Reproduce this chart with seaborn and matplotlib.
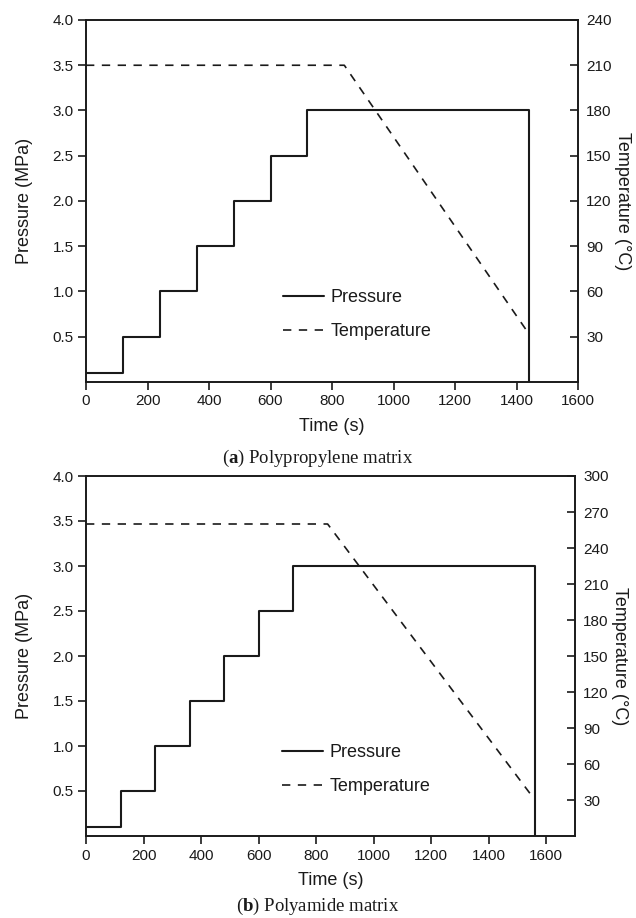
import matplotlib
matplotlib.use("Agg")
import matplotlib.pyplot as plt
import numpy as np
import pandas as pd
import seaborn as sns

sns.set_theme(style="ticks")
plt.rcParams["font.family"] = ["Liberation Sans", "DejaVu Sans"]
plt.rcParams["mathtext.fontset"] = "custom"
plt.rcParams["mathtext.bf"] = "Liberation Serif:bold"
plt.rcParams["mathtext.rm"] = "Liberation Serif"

# (a) polypropylene matrix
PP_TIME = [0, 120, 240, 360, 480, 600, 720, 1440, 1440]
PP_PRESSURE = [0.1, 0.5, 1.0, 1.5, 2.0, 2.5, 3.0, 3.0, 0.0]
PP_TEMP_TIME = [0, 840, 1440]
PP_TEMP = [210, 210, 32]

# (b) polyamide matrix
PA_TIME = [0, 120, 240, 360, 480, 600, 720, 1560, 1560]
PA_PRESSURE = [0.1, 0.5, 1.0, 1.5, 2.0, 2.5, 3.0, 3.0, 0.0]
PA_TEMP_TIME = [0, 840, 1545]
PA_TEMP = [260, 260, 35]

P_TICKS = [0.5, 1.0, 1.5, 2.0, 2.5, 3.0, 3.5, 4.0]
X_TICKS = [0, 200, 400, 600, 800, 1000, 1200, 1400, 1600]

INK = "#1a1a1a"


def draw_panel(fig, rect, time, pressure, temp_time, temp, xmax, tmax, t_ticks, caption_bold, caption_rest, cap_y):
    ax = fig.add_axes(rect)
    sns.lineplot(x=time, y=pressure, ax=ax, color=INK, lw=1.5, sort=False,
                 estimator=None, drawstyle="steps-post", legend=False)
    ax.set_xlim(0, xmax)
    ax.set_ylim(0, 4.0)
    ax.set_xticks(X_TICKS)
    ax.set_yticks(P_TICKS)
    ax.set_yticklabels([f"{v:.1f}" for v in P_TICKS])
    ax.tick_params(axis="both", direction="out", length=6, width=1.2, color=INK,
                   labelsize=11, labelcolor=INK, pad=3)
    ax.set_xlabel("Time (s)", fontsize=13, color=INK, labelpad=7)
    ax.set_ylabel("Pressure (MPa)", fontsize=13, color=INK, labelpad=14)

    ax2 = ax.twinx()
    sns.lineplot(x=temp_time, y=temp, ax=ax2, color=INK, lw=1.2, sort=False,
                 estimator=None, legend=False)
    ax2.lines[0].set_dashes([5, 4.5])
    ax2.set_ylim(0, tmax)
    ax2.set_yticks(t_ticks)
    ax2.tick_params(axis="y", direction="in", length=6, width=1.2, color=INK,
                    labelsize=11, labelcolor=INK, pad=6)
    ax2.set_ylabel("Temperature (°C)", fontsize=13, color=INK, rotation=270, labelpad=14)

    for a in (ax, ax2):
        for sp in a.spines.values():
            sp.set_color(INK)
            sp.set_linewidth(1.2)

    handles = ax.get_lines()[:1] + ax2.get_lines()[:1]
    leg = ax.legend(handles, ["Pressure", "Temperature"], loc="upper left",
                    bbox_to_anchor=(0.4, 0.256), frameon=False, fontsize=13,
                    handlelength=2.3, handletextpad=0.35, labelspacing=0.95,
                    borderpad=0, borderaxespad=0)
    for t in leg.get_texts():
        t.set_color(INK)

    cap = r"(" + r"$\bf{" + caption_bold + r"}$" + r") " + caption_rest
    fig.text(0.5, cap_y, cap, fontsize=13.5, family="Liberation Serif",
             ha="center", va="center", color=INK)
    return ax, ax2


fig = plt.figure(figsize=(6.36, 9.18), dpi=100)
draw_panel(fig, [86 / 636, 1 - 382 / 918, 492 / 636, 362 / 918],
           PP_TIME, PP_PRESSURE, PP_TEMP_TIME, PP_TEMP, 1600, 240,
           [30, 60, 90, 120, 150, 180, 210, 240], "a", "Polypropylene matrix", 1 - 458 / 918)
draw_panel(fig, [86 / 636, 1 - 836 / 918, 489 / 636, 360 / 918],
           PA_TIME, PA_PRESSURE, PA_TEMP_TIME, PA_TEMP, 1700, 300,
           [30, 60, 90, 120, 150, 180, 210, 240, 270, 300], "b", "Polyamide matrix", 1 - 906 / 918)

fig.savefig("out.png", dpi=100, facecolor="white")
